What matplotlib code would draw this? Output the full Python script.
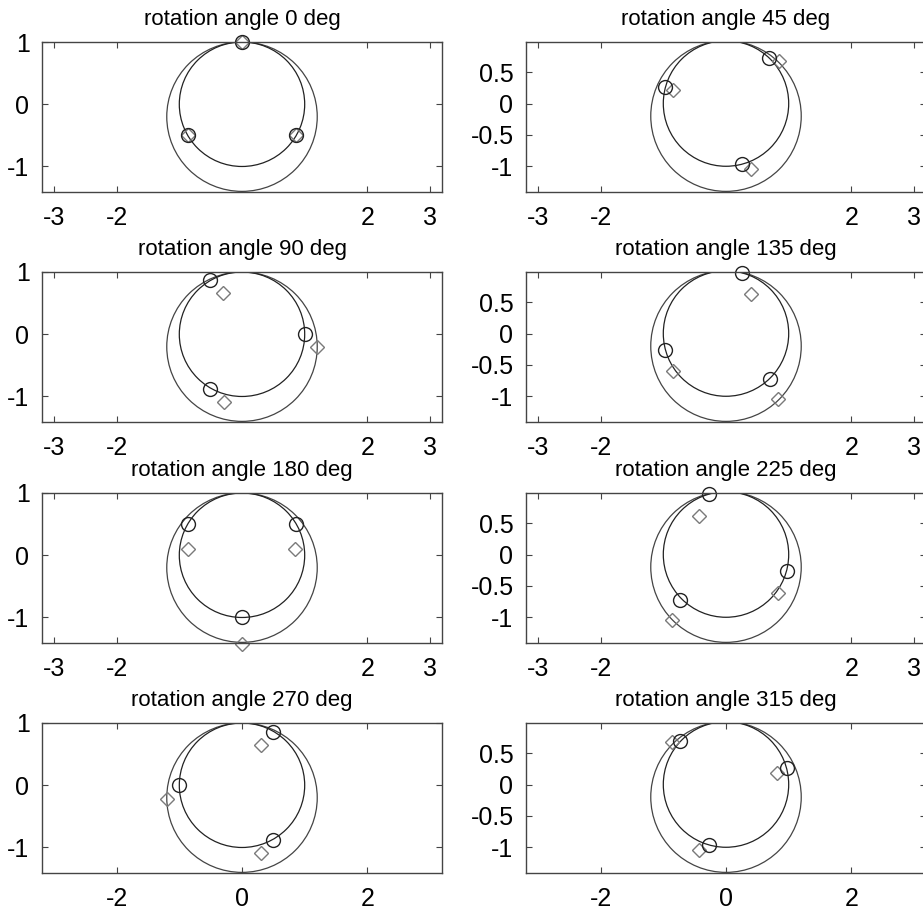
import matplotlib
matplotlib.use("Agg")
import matplotlib.pyplot as plt
from matplotlib.patches import Circle

# rotation angles, one panel each (row-major, 2 columns)
angles = [0, 45, 90, 135, 180, 225, 270, 315]

# geometry of the two reference circles
inner_center = (0.0, 0.0)
inner_radius = 1.0
outer_center = (0.0, -0.2)
outer_radius = 1.2

# circle markers (points on the inner circle)
circ_x = [
    [0.0, -0.866, 0.866],
    [-0.97, 0.69, 0.25],
    [-0.51, 1.0, -0.51],
    [0.25, -0.97, 0.70],
    [-0.866, 0.866, 0.0],
    [-0.27, 0.98, -0.73],
    [0.50, -1.0, 0.50],
    [-0.73, 0.97, -0.27],
]
circ_y = [
    [1.0, -0.5, -0.5],
    [0.26, 0.72, -0.96],
    [0.87, 0.0, -0.88],
    [0.97, -0.26, -0.72],
    [0.5, 0.5, -1.0],
    [0.97, -0.27, -0.72],
    [0.86, 0.0, -0.88],
    [0.69, 0.26, -0.97],
]

# diamond markers
diam_x = [
    [0.0, -0.866, 0.866],
    [-0.84, 0.85, 0.40],
    [-0.30, 1.20, -0.29],
    [0.40, -0.84, 0.83],
    [-0.86, 0.85, 0.0],
    [-0.43, 0.83, -0.86],
    [0.30, -1.20, 0.30],
    [-0.86, 0.81, -0.43],
]
diam_y = [
    [1.0, -0.5, -0.5],
    [0.22, 0.67, -1.04],
    [0.67, -0.20, -1.09],
    [0.63, -0.60, -1.05],
    [0.10, 0.10, -1.42],
    [0.62, -0.61, -1.05],
    [0.64, -0.22, -1.09],
    [0.67, 0.19, -1.04],
]

xticks_upper = [-3, -2, 2, 3]
xticks_bottom = [-2, 0, 2]
yticks_left = [-1, 0, 1]
yticks_right = [-1, -0.5, 0, 0.5]
yticklabels_right = ["-1", "-0.5", "0", "0.5"]


def main():
    plt.rcParams["font.family"] = ["Liberation Sans", "DejaVu Sans"]
    plt.rcParams["axes.unicode_minus"] = False

    W, H = 923, 911
    fig = plt.figure(figsize=(W / 100, H / 100), dpi=100)

    col_left = [42, 526]
    row_top = [42, 272, 493, 723]
    ax_w, ax_h = 400, 150

    for idx, ang in enumerate(angles):
        r, c = idx // 2, idx % 2
        rect = [col_left[c] / W, 1 - (row_top[r] + ax_h) / H, ax_w / W, ax_h / H]
        ax = fig.add_axes(rect)

        ax.add_patch(Circle(outer_center, outer_radius, fill=False,
                            edgecolor="#444444", linewidth=0.9))
        ax.add_patch(Circle(inner_center, inner_radius, fill=False,
                            edgecolor="#222222", linewidth=0.9))

        ax.plot(diam_x[idx], diam_y[idx], linestyle="none", marker="D",
                markersize=7.5, markerfacecolor="none", markeredgecolor="#7a7a7a",
                markeredgewidth=1.0, clip_on=False)
        ax.plot(circ_x[idx], circ_y[idx], linestyle="none", marker="o",
                markersize=10, markerfacecolor="none", markeredgecolor="#222222",
                markeredgewidth=1.0, clip_on=False)

        ax.set_xlim(-3.19, 3.19)
        if c == 0:
            ax.set_ylim(-1.41, 1.0)
            ax.set_yticks(yticks_left)
            ax.set_yticklabels([str(v) for v in yticks_left])
        else:
            ax.set_ylim(-1.41, 0.98)
            ax.set_yticks(yticks_right)
            ax.set_yticklabels(yticklabels_right)

        if r < 3:
            ax.set_xticks(xticks_upper)
            ax.set_xticklabels([str(v) for v in xticks_upper])
        else:
            ax.set_xticks(xticks_bottom)
            ax.set_xticklabels([str(v) for v in xticks_bottom])

        ax.tick_params(direction="in", top=True, right=True, length=4,
                       width=0.8, color="#444444", labelsize=18)
        ax.tick_params(axis="x", pad=10)
        ax.tick_params(axis="y", pad=9)
        for sp in ax.spines.values():
            sp.set_color("#444444")
            sp.set_linewidth(1.0)

        ax.set_title(f"rotation angle {ang} deg", fontsize=16, pad=12)

    fig.savefig("out.png", dpi=100)


if __name__ == "__main__":
    main()
